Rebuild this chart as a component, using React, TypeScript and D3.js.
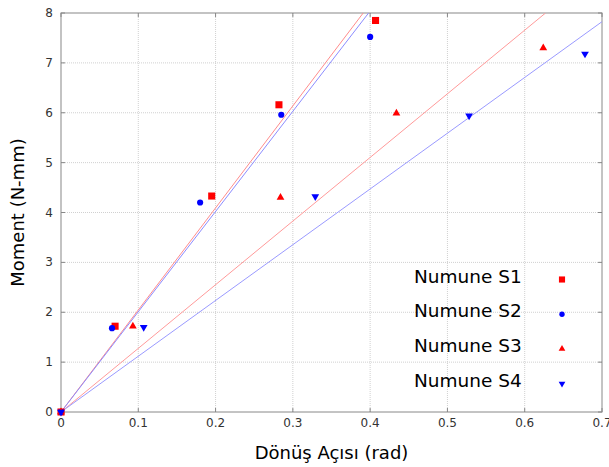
import React, { useEffect, useRef } from "react";
import * as d3 from "d3";

// values
const xTicks = [0, 0.1, 0.2, 0.3, 0.4, 0.5, 0.6, 0.7];
const yTicks = [0, 1, 2, 3, 4, 5, 6, 7, 8];

const seriesNames = ["Numune S1", "Numune S2", "Numune S3", "Numune S4"];
const seriesColors = ["#ff0000", "#0000ff", "#ff0000", "#0000ff"];
const lineColors = ["#ff8c8c", "#8c8cff", "#ff9a9a", "#9a9aff"];
const seriesShapes = ["square", "circle", "triangle", "triangleDown"];

const s1X = [0, 0.07, 0.195, 0.282, 0.407];
const s1Y = [0, 1.72, 4.33, 6.16, 7.85];
const s2X = [0, 0.066, 0.18, 0.285, 0.4];
const s2Y = [0, 1.68, 4.2, 5.96, 7.52];
const s3X = [0, 0.093, 0.284, 0.434, 0.624];
const s3Y = [0, 1.72, 4.3, 5.99, 7.3];
const s4X = [0, 0.107, 0.329, 0.528, 0.678];
const s4Y = [0, 1.7, 4.32, 5.94, 7.18];

// slopes of the fitted lines through the origin
const fitSlopes = [20.46, 20.1, 12.76, 11.18];

const width = 609;
const height = 467;
const margin = { left: 61, top: 13, right: 7, bottom: 55 };

export default function App() {
  const ref = useRef<SVGSVGElement | null>(null);

  useEffect(() => {
    const svg = d3.select(ref.current);
    svg.selectAll("*").remove();

    const x = d3
      .scaleLinear()
      .domain([0, 0.7])
      .range([margin.left, width - margin.right]);
    const y = d3
      .scaleLinear()
      .domain([0, 8])
      .range([height - margin.bottom, margin.top]);

    const x0 = x.range()[0];
    const x1 = x.range()[1];
    const y0 = y.range()[0];
    const y1 = y.range()[1];

    svg
      .append("defs")
      .append("clipPath")
      .attr("id", "plot-clip")
      .append("rect")
      .attr("x", x0)
      .attr("y", y1)
      .attr("width", x1 - x0)
      .attr("height", y0 - y1);

    // grid
    const grid = svg.append("g");
    grid
      .selectAll("line.gx")
      .data(xTicks.slice(1, -1))
      .enter()
      .append("line")
      .attr("x1", (d) => x(d))
      .attr("x2", (d) => x(d))
      .attr("y1", y0)
      .attr("y2", y1)
      .attr("stroke", "#d0d0d0")
      .attr("stroke-dasharray", "1,1");
    grid
      .selectAll("line.gy")
      .data(yTicks.slice(1, -1))
      .enter()
      .append("line")
      .attr("x1", x0)
      .attr("x2", x1)
      .attr("y1", (d) => y(d))
      .attr("y2", (d) => y(d))
      .attr("stroke", "#d0d0d0")
      .attr("stroke-dasharray", "1,1");

    // frame + inner ticks
    svg
      .append("rect")
      .attr("x", x0)
      .attr("y", y1)
      .attr("width", x1 - x0)
      .attr("height", y0 - y1)
      .attr("fill", "none")
      .attr("stroke", "#888");

    const ticks = svg.append("g").attr("stroke", "#888");
    xTicks.forEach((t) => {
      ticks.append("line").attr("x1", x(t)).attr("x2", x(t)).attr("y1", y0).attr("y2", y0 - 4);
      ticks.append("line").attr("x1", x(t)).attr("x2", x(t)).attr("y1", y1).attr("y2", y1 + 4);
    });
    yTicks.forEach((t) => {
      ticks.append("line").attr("x1", x0).attr("x2", x0 + 4).attr("y1", y(t)).attr("y2", y(t));
      ticks.append("line").attr("x1", x1).attr("x2", x1 - 4).attr("y1", y(t)).attr("y2", y(t));
    });

    // tick labels
    svg
      .append("g")
      .selectAll("text")
      .data(xTicks)
      .enter()
      .append("text")
      .attr("x", (d) => x(d))
      .attr("y", y0 + 15)
      .attr("text-anchor", "middle")
      .style("font-size", "12px")
      .style("fill", "#333")
      .text((d) => (d === 0 ? "0" : d3.format(".1f")(d)));
    svg
      .append("g")
      .selectAll("text")
      .data(yTicks)
      .enter()
      .append("text")
      .attr("x", x0 - 8)
      .attr("y", (d) => y(d) + 4)
      .attr("text-anchor", "end")
      .style("font-size", "12px")
      .style("fill", "#333")
      .text((d) => d);

    // fitted lines
    const lines = svg.append("g").attr("clip-path", "url(#plot-clip)");
    fitSlopes.forEach((k, i) => {
      const xe = Math.min(0.7, 8 / k);
      lines
        .append("line")
        .attr("x1", x(0))
        .attr("y1", y(0))
        .attr("x2", x(xe))
        .attr("y2", y(k * xe))
        .attr("stroke", lineColors[i])
        .attr("stroke-width", 1);
    });

    const symbolFor = (shape: string, small = false) => {
      const f = small ? 0.75 : 1;
      const g = d3.symbol();
      if (shape === "square") return g.type(d3.symbolSquare).size(50 * f)();
      if (shape === "circle") return g.type(d3.symbolCircle).size(30 * f)();
      return g.type(d3.symbolTriangle).size(26 * f)();
    };

    const xs = [s1X, s2X, s3X, s4X];
    const ys = [s1Y, s2Y, s3Y, s4Y];
    xs.forEach((sx, i) => {
      const shape = seriesShapes[i];
      const pts = sx.map((v, j) => [v, ys[i][j]]);
      svg
        .append("g")
        .selectAll("path")
        .data(pts)
        .enter()
        .append("path")
        .attr("d", symbolFor(shape))
        .attr(
          "transform",
          (d) =>
            `translate(${x(d[0])},${y(d[1])})` +
            (shape === "triangleDown" ? " rotate(180)" : "")
        )
        .attr("fill", seriesColors[i]);
    });

    // legend
    const legend = svg.append("g");
    seriesNames.forEach((name, i) => {
      const ly = 279.5 + i * 34.7;
      legend
        .append("text")
        .attr("x", 414)
        .attr("y", ly + 3)
        .style("font-size", "18.5px")
        .style("fill", "#000")
        .text(name);
      legend
        .append("path")
        .attr("d", symbolFor(seriesShapes[i], true))
        .attr(
          "transform",
          `translate(562,${ly})` + (seriesShapes[i] === "triangleDown" ? " rotate(180)" : "")
        )
        .attr("fill", seriesColors[i]);
    });

    // axis titles
    svg
      .append("text")
      .attr("x", (x0 + x1) / 2)
      .attr("y", 459)
      .attr("text-anchor", "middle")
      .style("font-size", "18px")
      .style("fill", "#000")
      .text("Dönüş Açısı (rad)");
    svg
      .append("text")
      .attr("transform", `translate(24,${(y0 + y1) / 2}) rotate(-90)`)
      .attr("text-anchor", "middle")
      .style("font-size", "18px")
      .style("fill", "#000")
      .text("Moment (N-mm)");
  }, []);

  return (
    <svg
      ref={ref}
      width={width}
      height={height}
      style={{
        position: "absolute",
        left: 0,
        top: 0,
        background: "#fff",
        fontFamily: "'DejaVu Sans', sans-serif",
      }}
    />
  );
}
